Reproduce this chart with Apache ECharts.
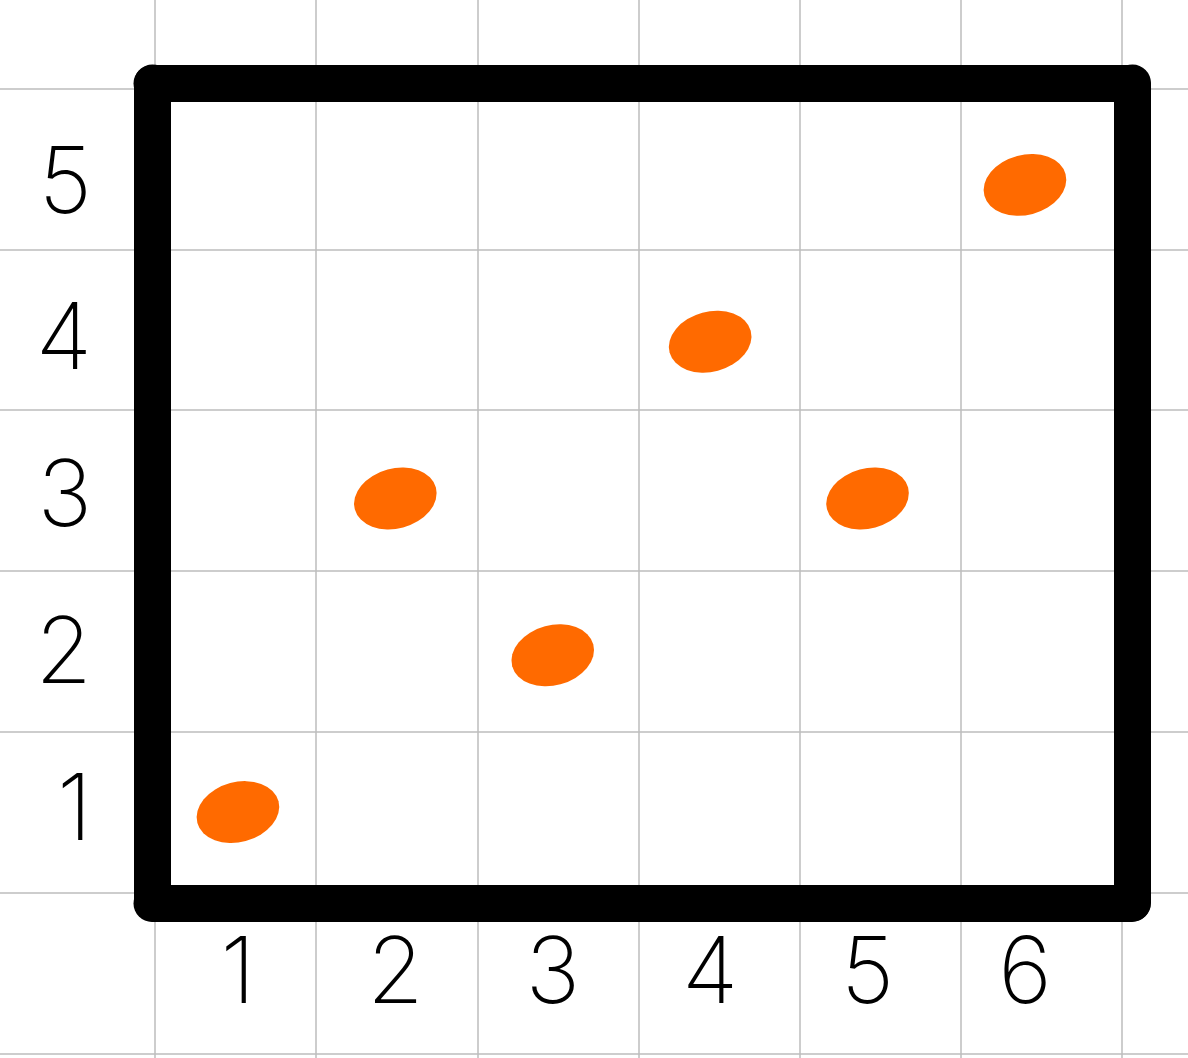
<!DOCTYPE html>
<html>
<head>
<meta charset="utf-8">
<script src="https://cdn.jsdelivr.net/npm/echarts@6/dist/echarts.min.js"></script>
<style>
html,body{margin:0;padding:0;background:#fff;}
#chart{width:1188px;height:1058px;}
</style>
</head>
<body>
<div id="chart"></div>
<script>
const xValues = [1, 2, 3, 4, 5, 6];
const yValues = [1, 3, 2, 4, 3, 5];
const xTickLabels = [1, 2, 3, 4, 5, 6];
const yTickLabels = [1, 2, 3, 4, 5];

const X_MIN = 0.454, X_MAX = 6.68;
const Y_MIN = 0.42, Y_MAX = 5.65;
const paperLine = { show: true, lineStyle: { color: '#bcbcbc', width: 1.5 } };
const boxLine = { show: true, lineStyle: { color: '#000', width: 37, cap: 'round' } };
const labelFont = { fontFamily: 'Inter', fontWeight: 200, fontSize: 92, color: '#000' };

const chart = echarts.init(document.getElementById('chart'), null, { renderer: 'canvas' });
chart.setOption({
  backgroundColor: '#ffffff',
  animation: false,
  grid: [
    { left: 152, top: 83, width: 980, height: 820, show: false, outerBoundsMode: 'none', containLabel: false },
    { left: -6.17, top: -72.3, width: 1289.4, height: 1286.4, show: false, outerBoundsMode: 'none', containLabel: false }
  ],
  xAxis: [
    { gridIndex: 0, type: 'value', position: 'bottom', min: X_MIN, max: X_MAX,
      axisLine: boxLine, axisTick: { show: false }, splitLine: { show: false },
      axisLabel: Object.assign({ margin: 26, customValues: xTickLabels, formatter: v => String(v) }, labelFont) },
    { gridIndex: 0, type: 'value', position: 'top', min: X_MIN, max: X_MAX,
      axisLine: boxLine, axisTick: { show: false }, splitLine: { show: false }, axisLabel: { show: false } },
    { gridIndex: 1, type: 'value', min: 0, max: 8, interval: 1,
      axisLine: { show: false }, axisTick: { show: false }, axisLabel: { show: false }, splitLine: paperLine }
  ],
  yAxis: [
    { gridIndex: 0, type: 'value', position: 'left', min: Y_MIN, max: Y_MAX,
      axisLine: boxLine, axisTick: { show: false }, splitLine: { show: false },
      axisLabel: Object.assign({ margin: 60, customValues: yTickLabels, formatter: v => String(v) }, labelFont) },
    { gridIndex: 0, type: 'value', position: 'right', min: Y_MIN, max: Y_MAX,
      axisLine: boxLine, axisTick: { show: false }, splitLine: { show: false }, axisLabel: { show: false } },
    { gridIndex: 1, type: 'value', min: 0, max: 8, interval: 1,
      axisLine: { show: false }, axisTick: { show: false }, axisLabel: { show: false }, splitLine: paperLine }
  ],
  series: [{
    type: 'scatter',
    xAxisIndex: 0,
    yAxisIndex: 0,
    symbol: 'circle',
    symbolSize: [84, 60],
    symbolRotate: 15,
    itemStyle: { color: '#ff6a00', opacity: 1 },
    z: 5,
    data: xValues.map((x, i) => [x, yValues[i]])
  }]
});
</script>
</body>
</html>
